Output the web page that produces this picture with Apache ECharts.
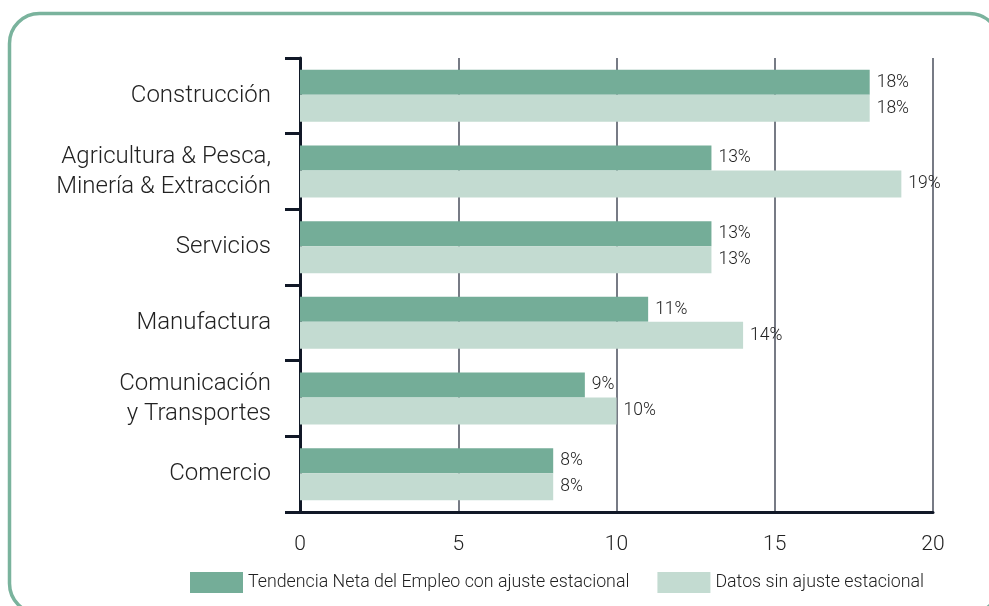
<!DOCTYPE html>
<html>
<head>
<meta charset="utf-8">
<script src="https://cdn.jsdelivr.net/npm/echarts@6/dist/echarts.min.js"></script>
<style>
html, body { margin: 0; padding: 0; background: #fff; }
#chart { width: 989px; height: 606px; }
</style>
</head>
<body>
<div id="chart"></div>
<script>
const categories = ['Construcción', 'Agricultura & Pesca,\nMinería & Extracción', 'Servicios', 'Manufactura', 'Comunicación\ny Transportes', 'Comercio'];
const seriesNames = ['Tendencia Neta del Empleo con ajuste estacional', 'Datos sin ajuste estacional'];
const ajustado = [18, 13, 13, 11, 9, 8];
const sinAjuste = [18, 19, 13, 14, 10, 8];
const xTicks = [0, 5, 10, 15, 20];

const dark = '#74ad98';
const light = '#c3dbd1';
const font = 'Roboto';

let chart = echarts.init(document.getElementById('chart'));

const labelOpt = {
  show: true,
  position: 'right',
  distance: 7,
  formatter: '{c}%',
  fontFamily: font,
  fontWeight: 300,
  fontSize: 17.5,
  color: '#222'
};

chart.setOption({
  animation: false,
  graphic: [{
    type: 'rect',
    shape: { x: 9.5, y: 13.5, width: 990, height: 600, r: 30 },
    style: { fill: 'none', stroke: '#7ab39d', lineWidth: 3.5 },
    silent: true,
    z: -1
  }],
  legend: {
    bottom: 8,
    left: 185,
    itemWidth: 53,
    itemHeight: 21,
    itemGap: 28,
    icon: 'rect',
    textStyle: { fontFamily: font, fontWeight: 300, fontSize: 17.8, color: '#222' },
    data: seriesNames
  },
  grid: {
    left: 300,
    right: 56,
    top: 58,
    bottom: 94
  },
  xAxis: {
    type: 'value',
    min: xTicks[0],
    max: xTicks[xTicks.length - 1],
    interval: 5,
    axisLine: { show: true, lineStyle: { color: '#111827', width: 3 } },
    axisTick: { show: false },
    axisLabel: { margin: 22, fontFamily: font, fontWeight: 300, fontSize: 21, color: '#222' },
    splitLine: { show: true, lineStyle: { color: '#4a4f5c', width: 1.5 } }
  },
  yAxis: {
    type: 'category',
    inverse: true,
    data: categories,
    axisLine: { show: true, lineStyle: { color: '#111827', width: 3 } },
    axisTick: { show: true, length: 15, lineStyle: { color: '#111827', width: 3 } },
    axisLabel: { margin: 29, fontFamily: font, fontWeight: 300, fontSize: 24, lineHeight: 30, color: '#222', align: 'right' }
  },
  series: [
    {
      name: seriesNames[0],
      type: 'bar',
      data: ajustado,
      barWidth: 25,
      barGap: '0%',
      itemStyle: { color: dark },
      label: labelOpt
    },
    {
      name: seriesNames[1],
      type: 'bar',
      data: sinAjuste,
      barWidth: 27,
      barGap: '0%',
      itemStyle: { color: light },
      label: labelOpt
    }
  ]
});
</script>
</body>
</html>
